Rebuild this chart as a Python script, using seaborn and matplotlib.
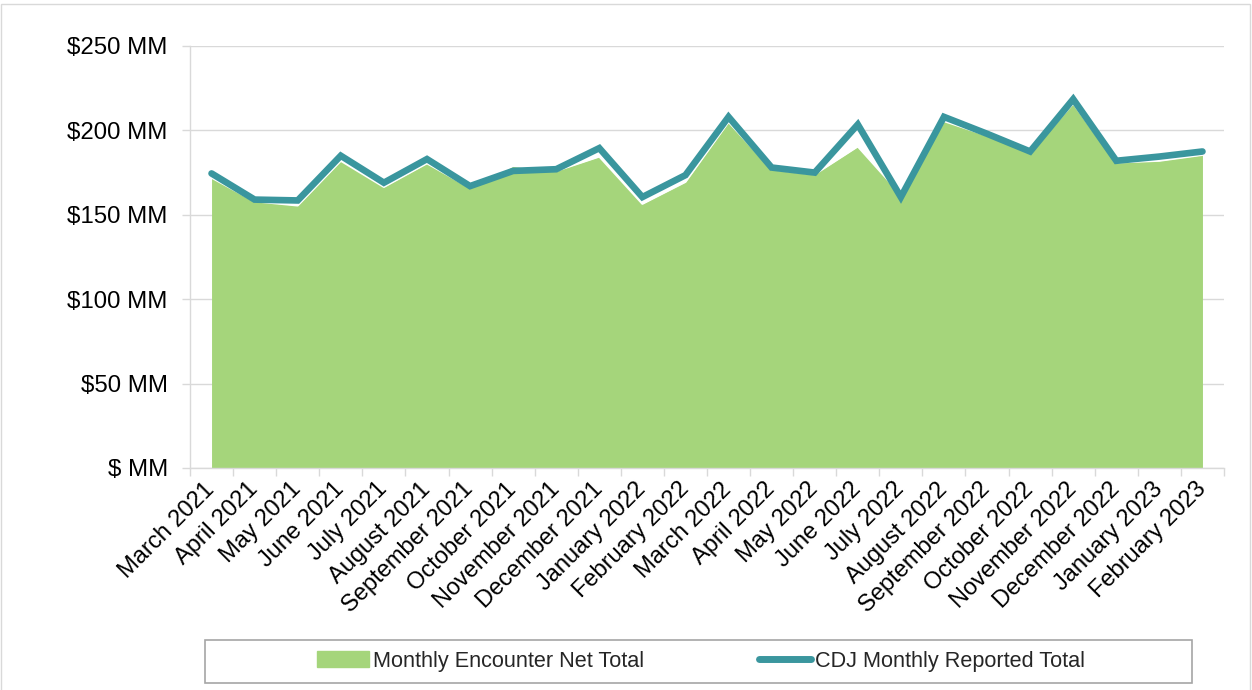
import numpy as np
import pandas as pd
import matplotlib
matplotlib.use("Agg")
import matplotlib.pyplot as plt
import matplotlib.patches as mpatches
from matplotlib.lines import Line2D
import seaborn as sns

# Month labels (x axis)
months = [
    "March 2021", "April 2021", "May 2021", "June 2021", "July 2021",
    "August 2021", "September 2021", "October 2021", "November 2021",
    "December 2021", "January 2022", "February 2022", "March 2022",
    "April 2022", "May 2022", "June 2022", "July 2022", "August 2022",
    "September 2022", "October 2022", "November 2022", "December 2022",
    "January 2023", "February 2023",
]

# Monthly Encounter Net Total ($ MM) - green area
encounter_net = [172, 158, 155.5, 182, 166.5, 180.5, 166, 179, 176, 184.5,
                 156.5, 169.5, 205, 177, 174, 190.5, 162, 205.5,
                 197, 187, 216, 181, 182, 185.5]

# CDJ Monthly Reported Total ($ MM) - teal line
cdj_reported = [174.5, 159, 158.5, 185, 169, 183, 167, 176, 177, 189.5,
                160.5, 173.5, 208, 178, 175, 203.5, 160.5, 208,
                198, 187.5, 218.5, 182, 184.5, 187.5]

y_ticks = [0, 50, 100, 150, 200, 250]
y_tick_labels = ["$ MM", "$50 MM", "$100 MM", "$150 MM", "$200 MM", "$250 MM"]

GREEN = "#A5D57B"
TEAL = "#3A969E"
GRID = "#D9D9D9"

df = pd.DataFrame({"idx": np.arange(len(months)), "month": months,
                   "net": encounter_net, "cdj": cdj_reported})

sns.set_theme(style="white")
plt.rcParams["font.family"] = ["Liberation Sans", "DejaVu Sans"]

fig = plt.figure(figsize=(12.52, 6.90), dpi=100)
ax = fig.add_axes([190 / 1252, 1 - 468 / 690, (1224 - 190) / 1252, (468 - 46) / 690])

# area + line
ax.fill_between(df["idx"], df["net"], color=GREEN, linewidth=0, zorder=2)
ax.plot(df["idx"], df["net"], color="white", linewidth=1.5, zorder=3)
sns.lineplot(data=df, x="idx", y="cdj", color=TEAL, linewidth=4.8,
             solid_capstyle="round", solid_joinstyle="miter", ax=ax, zorder=4)

ax.set_xlim(-0.5, len(months) - 0.5)
ax.set_ylim(0, 250)

ax.set_yticks(y_ticks)
ax.set_yticklabels(y_tick_labels, fontsize=17.3, color="black")
ax.tick_params(axis="y", which="major", length=6, width=1, color=GRID,
               left=True, pad=10)
ax.yaxis.grid(True, color=GRID, linewidth=1)
ax.set_axisbelow(True)

ax.set_xticks(df["idx"])
ax.set_xticklabels(months, rotation=45, ha="right", va="center",
                   rotation_mode="anchor", fontsize=17, color="black")
ax.set_xticks(np.arange(-0.5, len(months)), minor=True)
ax.tick_params(axis="x", which="major", length=0, pad=13)
ax.tick_params(axis="x", which="minor", length=6, width=1, color=GRID,
               bottom=True)

ax.set_xlabel("")
ax.set_ylabel("")
for side in ["top", "right"]:
    ax.spines[side].set_visible(False)
for side in ["left", "bottom"]:
    ax.spines[side].set_color(GRID)
    ax.spines[side].set_linewidth(1)

# legend with its own box
handles = [mpatches.Patch(color=GREEN, label="Monthly Encounter Net Total"),
           Line2D([0], [0], color=TEAL, linewidth=5, solid_capstyle="round",
                  label="CDJ Monthly Reported Total")]
fig.legend(handles=handles, loc="center", bbox_to_anchor=(701 / 1252, 1 - 661 / 690),
           ncol=2, frameon=False, fontsize=15.6, handlelength=2.4,
           handletextpad=0.2, columnspacing=5.3)
fig.patches.append(mpatches.Rectangle((205 / 1252, 1 - 683 / 690), 987 / 1252, 43 / 690,
                                      transform=fig.transFigure, fill=False,
                                      edgecolor="#A6A6A6", linewidth=1.2))
# outer chart border
fig.patches.append(mpatches.Rectangle((1 / 1252, -0.01), 1249 / 1252, 1 - 4 / 690 + 0.01,
                                      transform=fig.transFigure, fill=False,
                                      edgecolor=GRID, linewidth=1))

fig.savefig("out.png", dpi=100)
